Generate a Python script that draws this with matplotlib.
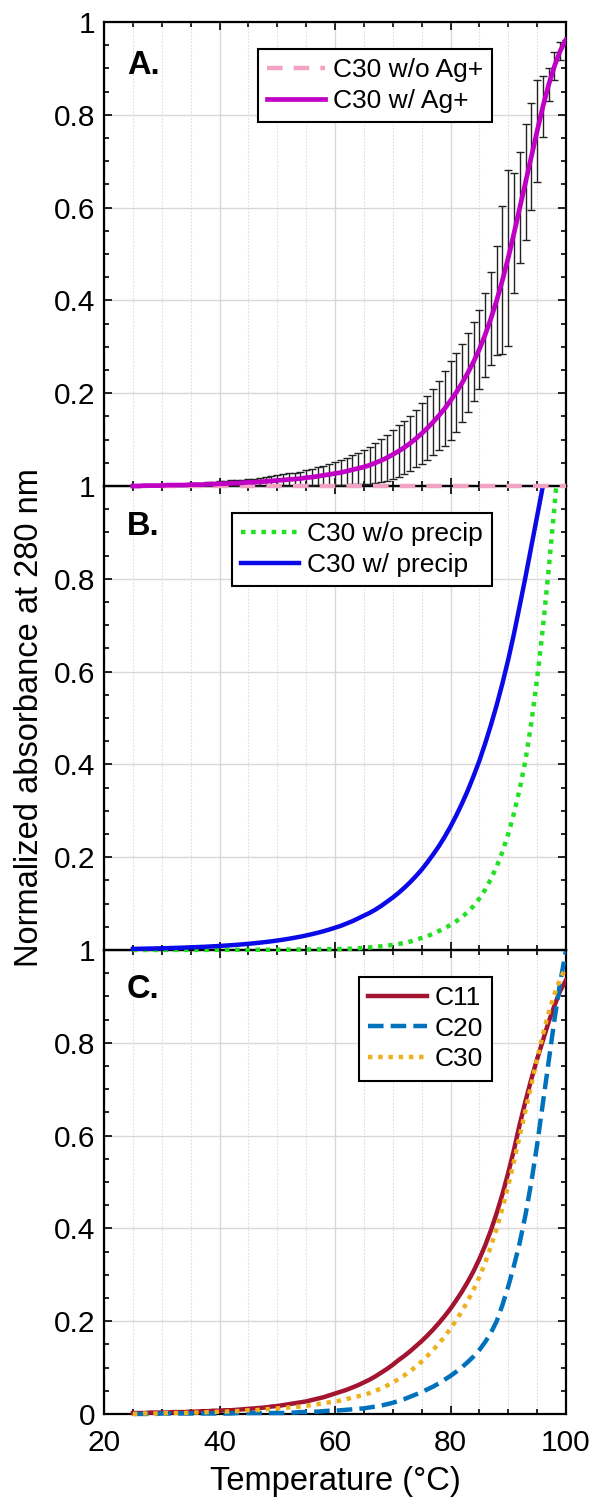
import numpy as np
import matplotlib
matplotlib.use('Agg')
import matplotlib.pyplot as plt
from matplotlib.ticker import MultipleLocator
from matplotlib.transforms import Bbox, TransformedBbox

plt.rcParams['font.family'] = ['Liberation Sans', 'DejaVu Sans']

# ---------------- data ----------------
temps = np.arange(25, 101)          # 25 .. 100 degC, 1 degC steps

# Panel A
c30_ag = [0.000, 0.000, 0.001, 0.001, 0.001, 0.001, 0.002, 0.002, 0.002, 0.002,
          0.003, 0.003, 0.003, 0.004, 0.004, 0.005, 0.005, 0.006, 0.006, 0.007,
          0.008, 0.008, 0.009, 0.010, 0.011, 0.012, 0.013, 0.014, 0.015, 0.016,
          0.018, 0.019, 0.021, 0.023, 0.025, 0.027, 0.029, 0.032, 0.035, 0.038,
          0.041, 0.045, 0.050, 0.055, 0.061, 0.068, 0.075, 0.083, 0.092, 0.102,
          0.113, 0.125, 0.138, 0.152, 0.167, 0.184, 0.202, 0.222, 0.244, 0.268,
          0.295, 0.326, 0.361, 0.400, 0.444, 0.492, 0.545, 0.600, 0.655, 0.710,
          0.765, 0.818, 0.865, 0.905, 0.938, 0.962]
c30_ag_err = [0.001, 0.001, 0.001, 0.002, 0.002, 0.002, 0.002, 0.003, 0.003, 0.003,
              0.003, 0.004, 0.004, 0.004, 0.005, 0.005, 0.005, 0.006, 0.006, 0.007,
              0.007, 0.008, 0.008, 0.009, 0.010, 0.011, 0.012, 0.013, 0.014, 0.015,
              0.016, 0.018, 0.019, 0.021, 0.023, 0.025, 0.027, 0.029, 0.031, 0.034,
              0.037, 0.040, 0.043, 0.046, 0.050, 0.053, 0.056, 0.058, 0.060, 0.062,
              0.065, 0.068, 0.071, 0.075, 0.080, 0.085, 0.085, 0.085, 0.085, 0.085,
              0.085, 0.090, 0.100, 0.117, 0.160, 0.190, 0.130, 0.120, 0.125, 0.115,
              0.110, 0.065, 0.035, 0.030, 0.020, 0.000]
temps_noag = [25, 50, 75, 100]
c30_noag = [0.0, 0.0, 0.0, 0.0]

# Panel B
temps_precip = np.arange(25, 97)    # 25 .. 96
c30_precip = [0.0024, 0.0026, 0.0029, 0.0031, 0.0034, 0.0037, 0.0040, 0.0044, 0.0048, 0.0052,
              0.0057, 0.0062, 0.0067, 0.0073, 0.0080, 0.0087, 0.0095, 0.0103, 0.0112, 0.0122,
              0.0133, 0.0145, 0.0158, 0.0172, 0.0187, 0.0204, 0.0222, 0.0242, 0.0264, 0.0287,
              0.0313, 0.0341, 0.0371, 0.0404, 0.0440, 0.048, 0.052, 0.057, 0.062, 0.068,
              0.074, 0.080, 0.087, 0.095, 0.104, 0.113, 0.123, 0.134, 0.146, 0.159,
              0.173, 0.189, 0.206, 0.224, 0.244, 0.266, 0.290, 0.316, 0.344, 0.375,
              0.408, 0.445, 0.485, 0.528, 0.575, 0.626, 0.682, 0.743, 0.805, 0.870,
              0.935, 1.000]
temps_noprecip = np.arange(25, 100)  # 25 .. 99
c30_noprecip = [0.0000, 0.0000, 0.0000, 0.0000, 0.0000, 0.0001, 0.0001, 0.0001, 0.0001, 0.0001,
                0.0001, 0.0001, 0.0001, 0.0002, 0.0002, 0.0002, 0.0002, 0.0003, 0.0003, 0.0003,
                0.0003, 0.0004, 0.0004, 0.0005, 0.0005, 0.0006, 0.0006, 0.0007, 0.0008, 0.0009,
                0.0010, 0.0011, 0.0012, 0.0014, 0.0016, 0.0018, 0.0021, 0.0025, 0.0030, 0.0037,
                0.0045, 0.0055, 0.0066, 0.0079, 0.0094, 0.011, 0.013, 0.015, 0.018, 0.022,
                0.026, 0.030, 0.035, 0.041, 0.047, 0.054, 0.062, 0.071, 0.082, 0.095,
                0.111, 0.130, 0.153, 0.180, 0.212, 0.250, 0.295, 0.348, 0.410, 0.490,
                0.585, 0.695, 0.820, 0.955, 1.100]

# Panel C
c11 = [0.002, 0.002, 0.002, 0.003, 0.003, 0.003, 0.003, 0.004, 0.004, 0.004,
       0.005, 0.005, 0.006, 0.006, 0.007, 0.007, 0.008, 0.008, 0.009, 0.010,
       0.011, 0.012, 0.013, 0.014, 0.016, 0.017, 0.019, 0.021, 0.023, 0.025,
       0.027, 0.030, 0.033, 0.036, 0.040, 0.044, 0.048, 0.052, 0.057, 0.062,
       0.068, 0.074, 0.081, 0.089, 0.097, 0.106, 0.116, 0.125, 0.135, 0.146,
       0.157, 0.169, 0.182, 0.196, 0.211, 0.227, 0.245, 0.264, 0.285, 0.308,
       0.334, 0.363, 0.396, 0.433, 0.474, 0.520, 0.570, 0.625, 0.675, 0.722,
       0.765, 0.805, 0.845, 0.880, 0.912, 0.935]
c20 = [0.000, 0.000, 0.000, 0.000, 0.000, 0.001, 0.001, 0.001, 0.001, 0.001,
       0.001, 0.001, 0.001, 0.001, 0.001, 0.001, 0.001, 0.001, 0.002, 0.002,
       0.002, 0.002, 0.002, 0.002, 0.002, 0.002, 0.002, 0.003, 0.003, 0.004,
       0.004, 0.005, 0.005, 0.006, 0.007, 0.007, 0.008, 0.009, 0.010, 0.011,
       0.012, 0.014, 0.016, 0.018, 0.021, 0.024, 0.028, 0.032, 0.037, 0.042,
       0.047, 0.053, 0.059, 0.066, 0.074, 0.082, 0.091, 0.101, 0.112, 0.124,
       0.138, 0.155, 0.175, 0.200, 0.235, 0.275, 0.320, 0.370, 0.430, 0.500,
       0.580, 0.670, 0.760, 0.850, 0.930, 1.000]
c30 = c30_ag

ytick_vals = [0, 0.2, 0.4, 0.6, 0.8, 1]
ytick_labels_top = ['', '0.2', '0.4', '0.6', '0.8', '1']
ytick_labels_bottom = ['0', '0.2', '0.4', '0.6', '0.8', '1']
xtick_vals = [20, 40, 60, 80, 100]

# ---------------- figure ----------------
FS_TICK = 21.5
FS_LAB = 23.5
FS_LEG = 19
fig = plt.figure(figsize=(5.91, 15.01), dpi=100)
left, width, h = 0.176, 0.7817, 0.3091
axA = fig.add_axes([left, 0.6762, width, h])
axB = fig.add_axes([left, 0.3671, width, h])
axC = fig.add_axes([left, 0.0580, width, h])
axA.set_zorder(3); axB.set_zorder(2); axC.set_zorder(1)


def style(ax, ylabels, show_x):
    ax.set_facecolor('none')
    ax.set_xlim(20, 100)
    ax.set_ylim(0, 1)
    ax.set_xticks(xtick_vals)
    ax.xaxis.set_minor_locator(MultipleLocator(5))
    ax.set_yticks(ytick_vals)
    ax.set_yticklabels(ylabels)
    ax.yaxis.set_minor_locator(MultipleLocator(0.05))
    ax.grid(which='major', color='#d8d8d8', lw=1.0, ls='-')
    ax.grid(which='minor', axis='x', color='#dcdcdc', lw=0.8, ls=(0, (1.5, 1.5)))
    ax.grid(which='minor', axis='y', visible=False)
    ax.set_axisbelow(True)
    ax.tick_params(which='both', direction='in', top=True, right=True,
                   labelsize=FS_TICK, width=1.2, colors='black')
    ax.tick_params(axis='y', pad=6)
    ax.tick_params(axis='x', pad=11)
    ax.tick_params(which='major', length=6)
    ax.tick_params(which='minor', length=3.5)
    ax.tick_params(axis='x', labelbottom=show_x)
    for s in ax.spines.values():
        s.set_linewidth(1.6)
        s.set_color('black')


def clip_low(line, ax):
    line.set_clip_box(TransformedBbox(Bbox([[0, -0.02], [1, 1]]), ax.transAxes))


def legend(ax):
    leg = ax.legend(loc='upper right', bbox_to_anchor=(0.84, 0.942), borderaxespad=0,
                    fancybox=False, edgecolor='black', framealpha=1, fontsize=FS_LEG,
                    handlelength=2.2, handletextpad=0.3, borderpad=0.35, labelspacing=0.25)
    leg.get_frame().set_linewidth(1.5)
    return leg


# Panel A
style(axA, ytick_labels_top, False)
axA.errorbar(temps, c30_ag, yerr=c30_ag_err, fmt='none', ecolor='#222222',
             elinewidth=1.0, capsize=3, capthick=1.0, zorder=2.8)
l1, = axA.plot(temps_noag, c30_noag, color='#f2a2c4', lw=3.2, dashes=(3.5, 2.5),
               label='C30 w/o Ag+', zorder=3)
l2, = axA.plot(temps, c30_ag, color='#c000c4', lw=3.4, label='C30 w/ Ag+', zorder=4)
for ln in (l1, l2):
    clip_low(ln, axA)
legend(axA)
axA.text(0.05, 0.907, 'A.', transform=axA.transAxes, fontsize=FS_LAB, fontweight='bold',
         va='center', ha='left')

# Panel B
style(axB, ytick_labels_top, False)
l3, = axB.plot(temps_noprecip, c30_noprecip, color='#22e022', lw=3.2, dashes=(1, 1.3),
               label='C30 w/o precip', zorder=3)
l4, = axB.plot(temps_precip, c30_precip, color='#0a0ae8', lw=3.2, label='C30 w/ precip',
               zorder=4)
for ln in (l3, l4):
    clip_low(ln, axB)
legend(axB)
axB.text(0.05, 0.912, 'B.', transform=axB.transAxes, fontsize=FS_LAB, fontweight='bold',
         va='center', ha='left')

# Panel C
style(axC, ytick_labels_bottom, True)
l5, = axC.plot(temps, c11, color='#a2142f', lw=3.2, label='C11', zorder=3)
l6, = axC.plot(temps, c20, color='#0072bd', lw=3.2, dashes=(3.5, 1.6), label='C20', zorder=3)
l7, = axC.plot(temps, c30, color='#edb120', lw=3.2, dashes=(1, 1.3), label='C30', zorder=4)
for ln in (l5, l6, l7):
    clip_low(ln, axC)
legend(axC)
axC.text(0.05, 0.914, 'C.', transform=axC.transAxes, fontsize=FS_LAB, fontweight='bold',
         va='center', ha='left')
axC.set_xlabel('Temperature (°C)', fontsize=FS_LAB, labelpad=6)

fig.text(0.05, 1 - 718 / 1501, 'Normalized absorbance at 280 nm', rotation=90,
         va='center', ha='center', fontsize=FS_LAB)

fig.savefig('out.png', dpi=100, facecolor='white')
